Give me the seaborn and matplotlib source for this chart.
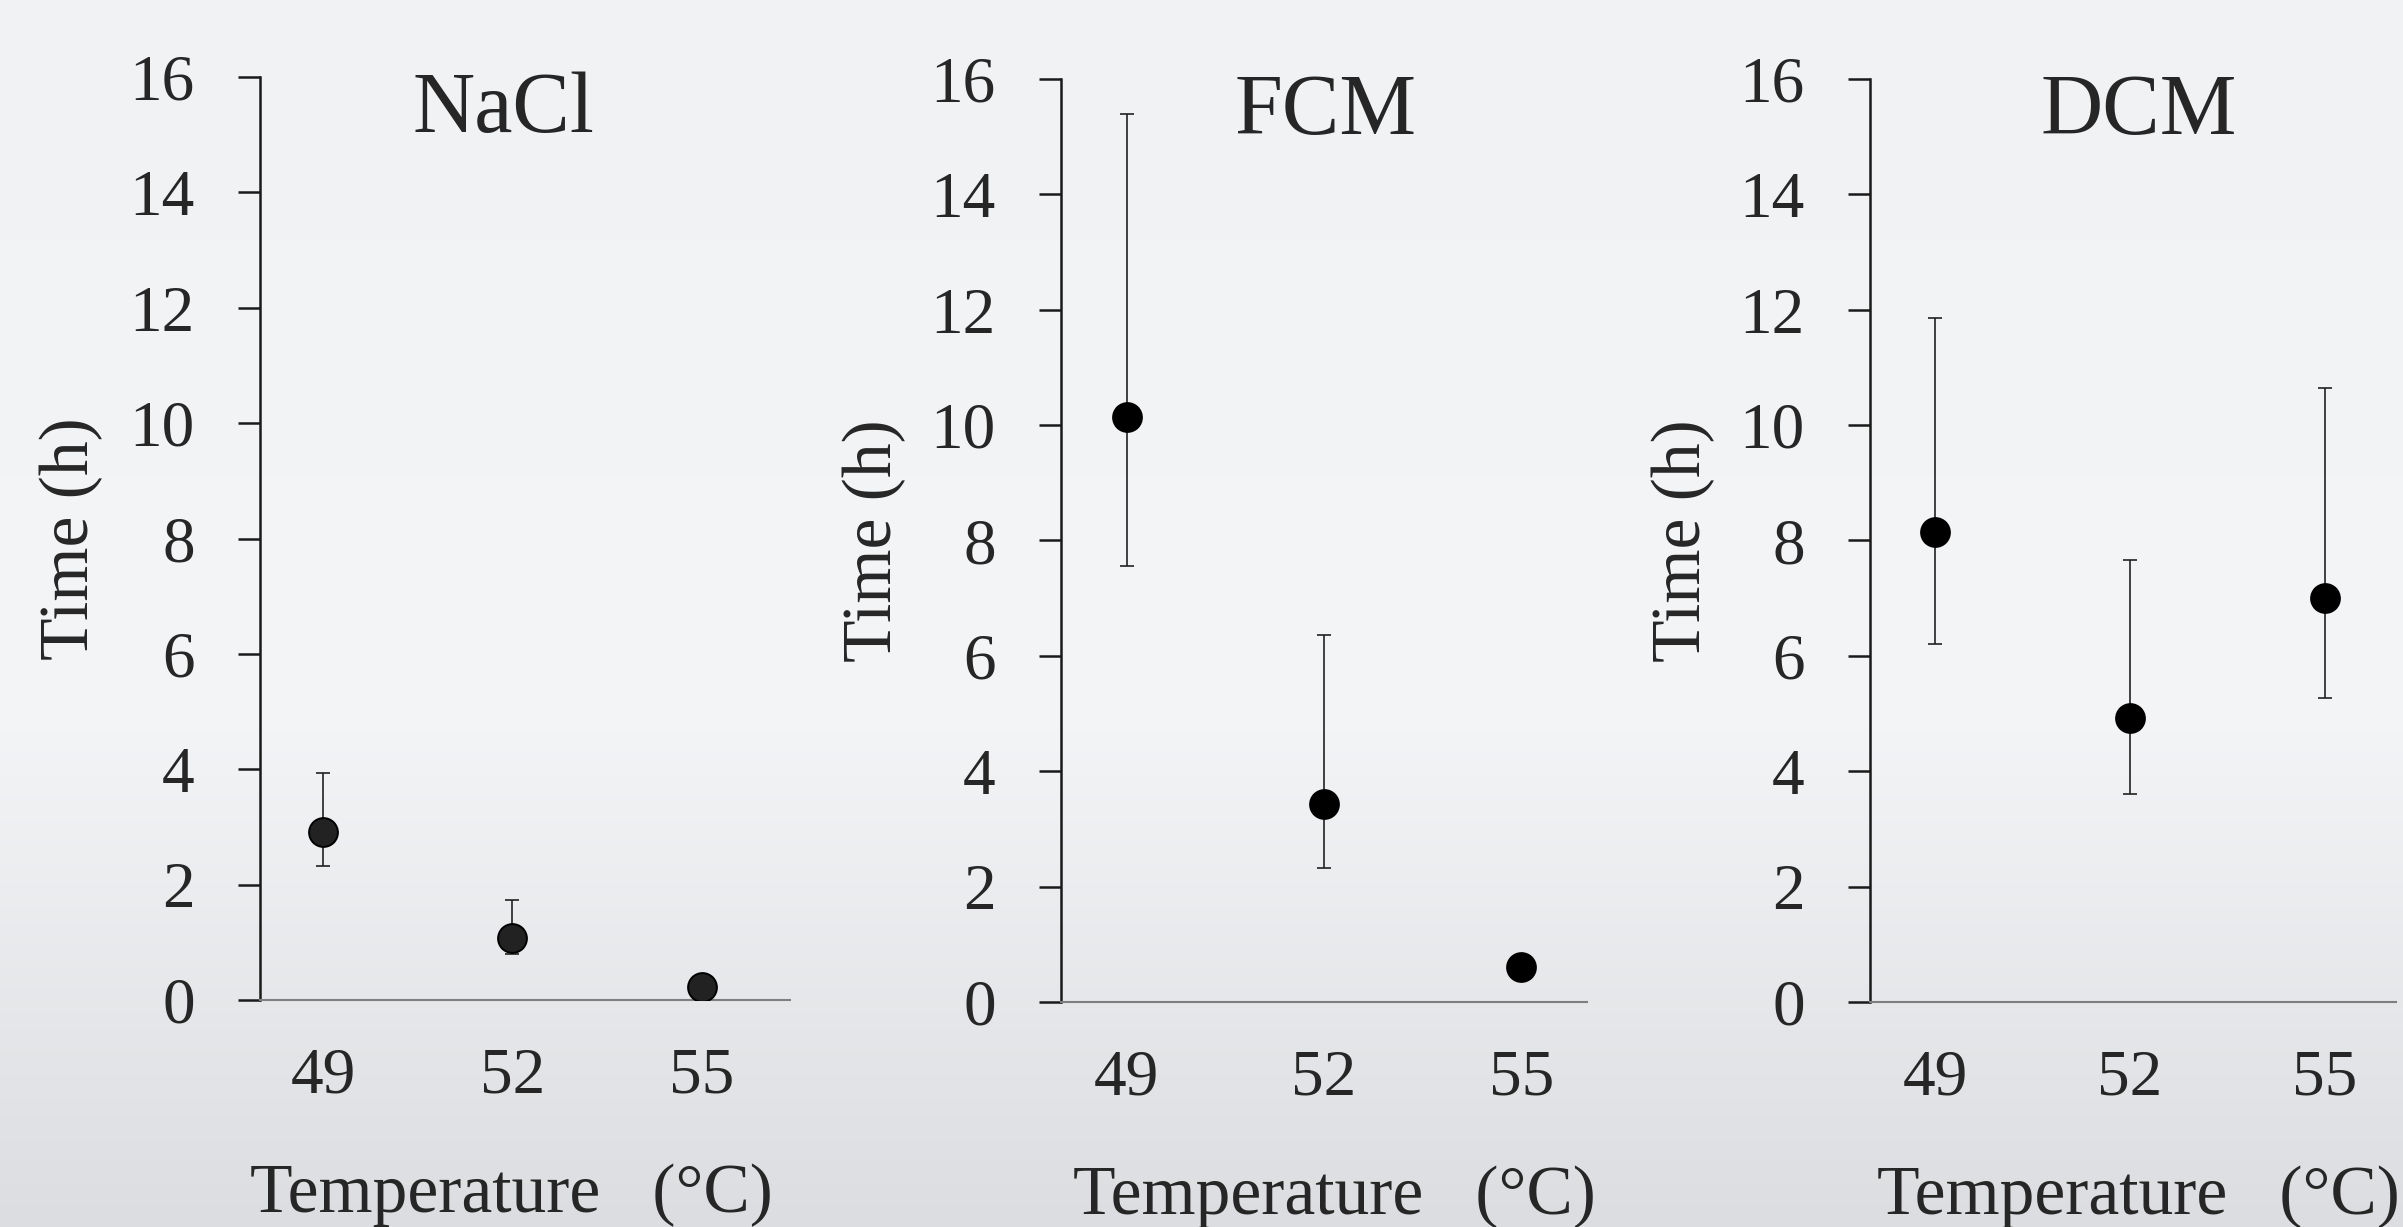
import numpy as np
import pandas as pd
import matplotlib
matplotlib.use("Agg")
import matplotlib.pyplot as plt
from matplotlib.colors import LinearSegmentedColormap
import seaborn as sns

# values
temps = [49, 52, 55]
panels = ["NaCl", "FCM", "DCM"]

nacl_mean = [2.92, 1.08, 0.22]
nacl_low = [2.33, 0.79, 0.22]
nacl_high = [3.93, 1.74, 0.22]

fcm_mean = [10.14, 3.43, 0.60]
fcm_low = [7.55, 2.33, 0.60]
fcm_high = [15.40, 6.37, 0.60]

dcm_mean = [8.15, 4.92, 7.01]
dcm_low = [6.21, 3.61, 5.27]
dcm_high = [11.85, 7.67, 10.64]

y_ticks = [0, 2, 4, 6, 8, 10, 12, 14, 16]

rows = []
for name, m, lo, hi in [("NaCl", nacl_mean, nacl_low, nacl_high),
                        ("FCM", fcm_mean, fcm_low, fcm_high),
                        ("DCM", dcm_mean, dcm_low, dcm_high)]:
    for t, a, b, c in zip(temps, m, lo, hi):
        rows.append({"panel": name, "temp": t, "time": a, "low": b, "high": c})
df = pd.DataFrame(rows)

sns.set_theme(style="white")
plt.rcParams["font.family"] = ["Liberation Serif", "DejaVu Serif"]
plt.rcParams["text.color"] = "#262626"

fig = plt.figure(figsize=(24.03, 12.27), dpi=100)

# soft grey gradient background
bg = fig.add_axes([0, 0, 1, 1], zorder=-10)
cmap = LinearSegmentedColormap.from_list(
    "bg", [(0, "#f1f2f4"), (0.58, "#f4f5f7"), (1, "#dcdde0")])
bg.imshow(np.linspace(0, 1, 256).reshape(-1, 1), cmap=cmap, aspect="auto",
          extent=[0, 1, 0, 1], origin="upper")
bg.set_axis_off()

boxes = [[0.1082, 0.1850, 0.2206, 0.7522],
         [0.4415, 0.1834, 0.2189, 0.7522],
         [0.7782, 0.1834, 0.2189, 0.7522]]
xlims = [(48, 56.4), (48, 56.0), (48, 56.1)]
title_x = [0.46, 0.504, 0.51]
xlabel_x = [0.475, 0.52, 0.51]
fills = ["#222222", "black", "black"]

for i, name in enumerate(panels):
    ax = fig.add_axes(boxes[i])
    ax.patch.set_alpha(0)
    d = df[df["panel"] == name]

    ax.errorbar(d["temp"], d["time"],
                yerr=[d["time"] - d["low"], d["high"] - d["time"]],
                fmt="none", ecolor="#222222", elinewidth=1.2,
                capsize=4.7, capthick=1.2, zorder=2)
    sns.scatterplot(data=d, x="temp", y="time", ax=ax, s=430,
                    color=fills[i], edgecolor="black", linewidth=1.4,
                    zorder=3, legend=False)

    ax.set_ylim(0, 16)
    ax.set_xlim(*xlims[i])
    ax.set_yticks(y_ticks)
    ax.set_xticks(temps)
    ax.set_xticklabels([str(t) for t in temps])
    ax.set_xlabel("")
    ax.set_ylabel("")

    for s in ["top", "right"]:
        ax.spines[s].set_visible(False)
    ax.spines["left"].set_color("#1a1a1a")
    ax.spines["left"].set_linewidth(1.8)
    ax.spines["bottom"].set_color("#7f7f7f")
    ax.spines["bottom"].set_linewidth(1.5)

    ax.tick_params(axis="y", direction="out", length=16, width=1.8,
                   color="#1a1a1a", pad=31, labelsize=47, labelcolor="#262626",
                   left=True)
    ax.tick_params(axis="x", length=0, pad=34, labelsize=47,
                   labelcolor="#262626")

    ax.text(title_x[i], 0.94, name, transform=ax.transAxes, ha="center",
            va="baseline", fontsize=62)
    ax.text(-0.355, 0.5, "Time (h)", transform=ax.transAxes, rotation=90,
            ha="center", va="center", fontsize=50)
    ax.text(xlabel_x[i], -0.23, "Temperature   (\u00b0C)", transform=ax.transAxes,
            ha="center", va="baseline", fontsize=50)

fig.savefig("out.png", dpi=100)
